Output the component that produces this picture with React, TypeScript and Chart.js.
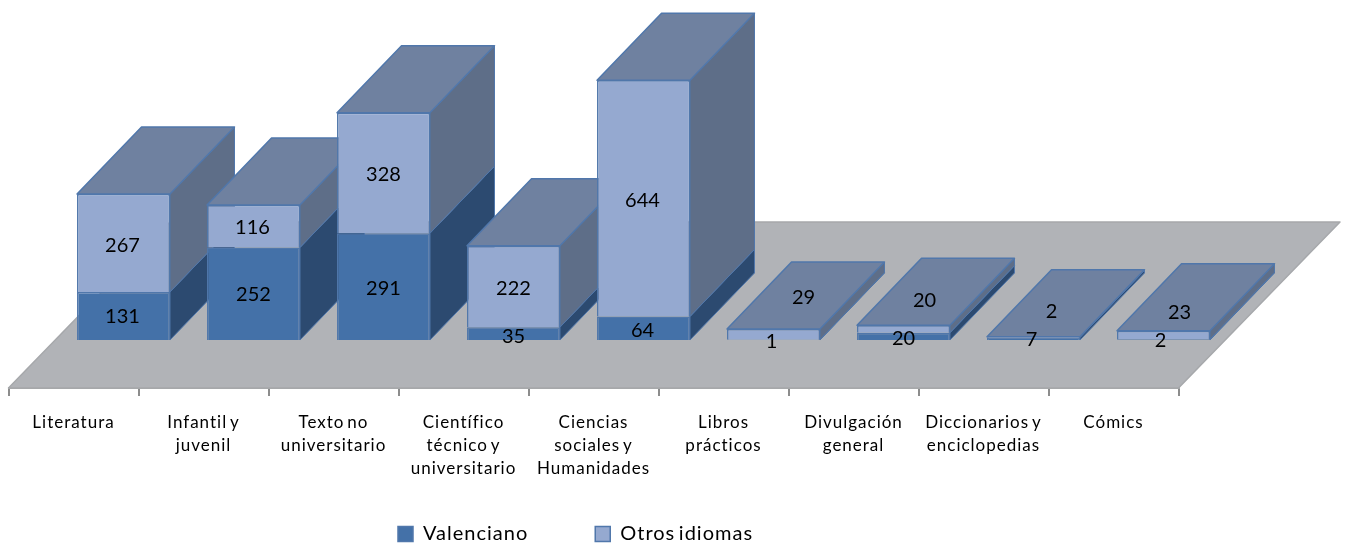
import React, { useEffect, useRef } from "react";
import { Chart, registerables } from "chart.js";

Chart.register(...registerables);

const categories: string[][] = [
  ["Literatura"],
  ["Infantil y", "juvenil"],
  ["Texto no", "universitario"],
  ["Científico", "técnico y", "universitario"],
  ["Ciencias", "sociales y", "Humanidades"],
  ["Libros", "prácticos"],
  ["Divulgación", "general"],
  ["Diccionarios y", "enciclopedias"],
  ["Cómics"],
];
const valenciano = [131, 252, 291, 35, 64, 1, 20, 7, 2];
const otrosIdiomas = [267, 116, 328, 222, 644, 29, 20, 2, 23];

// Label nudges relative to the centre of each segment (dx, dy), layout only.
const shiftValenciano = [[-1, 1], [0, 1], [0, 2], [0, 3], [-1, 2], [-2, 2], [0, 2], [-2, 1], [-3, 1]];
const shiftOtros = [[-1, 3], [-1, 1], [0, 2], [0, 2], [-1, 2], [30, -37], [21, -28], [18, -26], [16, -22]];

const FONT = "Lato, 'Open Sans', sans-serif";
const BAR_SHIFT = { x: 50, y: 48 };
const BAR_DEPTH = { x: 64.5, y: 67 };
const FLOOR_DEPTH = { x: 161.5, y: 166 };
const EDGE = "#5077AB";
const TOP_FACE = "#6F81A0";
const SIDE_FACE = ["#2C4A70", "#5E6E88"];

const poly = (ctx: CanvasRenderingContext2D, pts: number[][], fill: string, stroke: string, lw: number) => {
  ctx.beginPath();
  pts.forEach((p, i) => (i ? ctx.lineTo(p[0], p[1]) : ctx.moveTo(p[0], p[1])));
  ctx.closePath();
  ctx.fillStyle = fill;
  ctx.fill();
  ctx.lineWidth = lw;
  ctx.strokeStyle = stroke;
  ctx.lineJoin = "round";
  ctx.stroke();
};

const spacing = (chart: any) => {
  chart.ctx.letterSpacing = "1px";
  chart.ctx.wordSpacing = "-2.5px";
};

const box3d = {
  id: "box3d",
  beforeLayout: spacing,
  beforeDraw: spacing,
  afterLayout(chart: any) {
    // Legend placement: same box, moved to where the reference has it.
    const legend = chart.legend;
    const pad = legend.options.labels.padding;
    legend.left = 398 - pad;
    legend.right = legend.left + 800;
    legend.top = 534 - pad - 10;
  },
  beforeDatasetsDraw(chart: any) {
    const { ctx, chartArea } = chart;
    const { left, right, bottom } = chartArea;
    poly(
      ctx,
      [
        [left, bottom],
        [right, bottom],
        [right + FLOOR_DEPTH.x, bottom - FLOOR_DEPTH.y],
        [left + FLOOR_DEPTH.x, bottom - FLOOR_DEPTH.y],
      ],
      "#B1B3B7",
      "#A6A8AB",
      1.5
    );
    ctx.save();
    ctx.translate(BAR_SHIFT.x, -BAR_SHIFT.y);
    const m0 = chart.getDatasetMeta(0).data;
    const m1 = chart.getDatasetMeta(1).data;
    const dx = BAR_DEPTH.x;
    const dy = BAR_DEPTH.y;
    m0.forEach((_: any, i: number) => {
      [m0[i], m1[i]].forEach((el: any, k: number) => {
        const p = el.getProps(["x", "y", "base", "width"], true);
        const r = p.x + p.width / 2;
        poly(
          ctx,
          [
            [r, p.base],
            [r + dx, p.base - dy],
            [r + dx, p.y - dy],
            [r, p.y],
          ],
          SIDE_FACE[k],
          EDGE,
          1
        );
      });
      const t = m1[i].getProps(["x", "y", "base", "width"], true);
      const l = t.x - t.width / 2;
      const r = t.x + t.width / 2;
      poly(
        ctx,
        [
          [l, t.y],
          [r, t.y],
          [r + dx, t.y - dy],
          [l + dx, t.y - dy],
        ],
        TOP_FACE,
        EDGE,
        1.5
      );
    });
  },
  afterDatasetsDraw(chart: any) {
    const { ctx } = chart;
    ctx.restore();
    ctx.save();
    ctx.fillStyle = "#000";
    ctx.font = `20px ${FONT}`;
    ctx.letterSpacing = "0px";
    ctx.textAlign = "center";
    ctx.textBaseline = "middle";
    [shiftValenciano, shiftOtros].forEach((shift, k) => {
      const ds = chart.data.datasets[k].data;
      chart.getDatasetMeta(k).data.forEach((el: any, i: number) => {
        const p = el.getProps(["x", "y", "base"], true);
        ctx.fillText(
          String(ds[i]),
          p.x + BAR_SHIFT.x + shift[i][0],
          (p.y + p.base) / 2 - BAR_SHIFT.y + shift[i][1]
        );
      });
    });
    ctx.restore();
  },
};

export default function App() {
  const ref = useRef<HTMLCanvasElement>(null);
  useEffect(() => {
    const chart = new Chart(ref.current as HTMLCanvasElement, {
      type: "bar",
      data: {
        labels: categories as any,
        datasets: [
          { label: "Valenciano", data: valenciano, backgroundColor: "#4471A8", borderColor: EDGE, borderWidth: 1.5, clip: false as any },
          { label: "Otros idiomas", data: otrosIdiomas, backgroundColor: "#95A9D0", borderColor: EDGE, borderWidth: 1.5, clip: false as any },
        ],
      },
      options: {
        responsive: false,
        animation: false,
        layout: { padding: { left: 8.5, right: 170.5, top: 21, bottom: 0 } },
        datasets: { bar: { barPercentage: 1, categoryPercentage: 0.715 } },
        plugins: {
          tooltip: { enabled: false },
          legend: {
            position: "bottom",
            align: "start",
            maxHeight: 30,
            labels: {
              boxWidth: 15,
              boxHeight: 15,
              padding: 67,
              color: "#000",
              font: { family: FONT, size: 20 },
            },
          },
        },
        scales: {
          x: {
            stacked: true,
            afterFit: (s: any) => {
              s.height = 129;
            },
            border: { display: true, color: "#A6A8AB", width: 2 },
            grid: { drawOnChartArea: false, tickLength: 8, tickColor: "#8C8C8C", lineWidth: 2 },
            ticks: {
              autoSkip: false,
              maxRotation: 0,
              minRotation: 0,
              padding: 15,
              color: "#000",
              font: { family: FONT, size: 17, lineHeight: 1.36 },
            },
          },
          y: { stacked: true, display: false, min: 0, max: 1000 },
        },
      },
      plugins: [box3d],
    } as any);
    return () => chart.destroy();
  }, []);
  return (
    <div style={{ position: "fixed", left: 0, top: 0 }}>
      <canvas ref={ref} width={1349} height={547} style={{ display: "block" }} />
    </div>
  );
}
